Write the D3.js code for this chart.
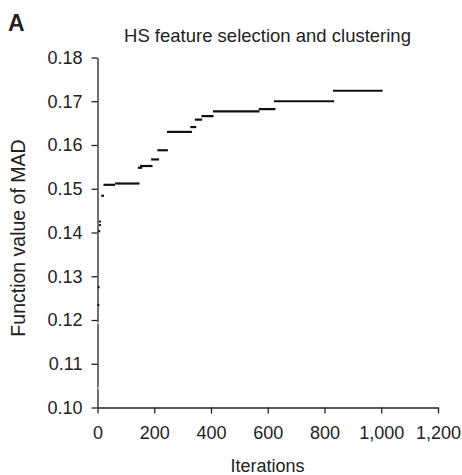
<!DOCTYPE html>
<html>
<head>
<meta charset="utf-8">
<script src="https://cdn.jsdelivr.net/npm/d3@7"></script>
<style>
  html, body { margin: 0; padding: 0; background: #fff; }
  svg { display: block; font-family: "Liberation Sans", Arial, sans-serif; }
</style>
</head>
<body>
<svg id="chart" width="462" height="475"></svg>
<script>
// Step segments of best function value (iteration start, end, value)
const segStart = [13, 21, 62, 142, 150, 189, 211, 245, 327, 343, 366, 407, 568, 622, 830];
const segEnd   = [23, 62, 148, 158, 194, 217, 248, 333, 348, 369, 409, 571, 627, 834, 1005];
const segValue = [0.1484, 0.1509, 0.1512, 0.1548, 0.1552, 0.1567, 0.1588, 0.1630, 0.1641, 0.1658, 0.1666, 0.1677, 0.1682, 0.1700, 0.1724];
// Isolated early points
const dotIter  = [9, 9, 6, 4, 3];
const dotValue = [0.1425, 0.1417, 0.1403, 0.1275, 0.1234];
// Faint early points
const faintIter  = [3, 4];
const faintValue = [0.1193, 0.1044];

const xTicks = [0, 200, 400, 600, 800, 1000, 1200];
const yTicks = [0.10, 0.11, 0.12, 0.13, 0.14, 0.15, 0.16, 0.17, 0.18];

const svg = d3.select("#chart");
const x = d3.scaleLinear().domain([0, 1200]).range([97.5, 438]);
const y = d3.scaleLinear().domain([0.10, 0.18]).range([407.5, 57.5]);

const fmtX = d3.format(",");
const xAxis = d3.axisBottom(x).tickValues(xTicks).tickFormat(d => fmtX(d)).tickSize(6).tickPadding(13).tickSizeOuter(0);
const yAxis = d3.axisLeft(y).tickValues(yTicks).tickFormat(d3.format(".2f")).tickSize(6).tickPadding(9).tickSizeOuter(0);

const gx = svg.append("g").attr("transform", `translate(0,${y(0.10)})`).call(xAxis);
const gy = svg.append("g").attr("transform", `translate(${x(0)},0)`).call(yAxis);
[gx, gy].forEach(g => {
  g.selectAll("path").attr("stroke", "#222").attr("stroke-width", 1.3);
  g.selectAll("line").attr("stroke", "#222").attr("stroke-width", 1.3);
  g.selectAll("text").attr("font-size", 18).attr("fill", "#222").attr("font-family", "Liberation Sans, Arial, sans-serif");
});

// segments
svg.append("g").selectAll("line").data(segValue).join("line")
  .attr("x1", (d, i) => x(segStart[i]))
  .attr("x2", (d, i) => x(segEnd[i]))
  .attr("y1", d => y(d))
  .attr("y2", d => y(d))
  .attr("stroke", "#111")
  .attr("stroke-width", 2.2);

svg.append("g").selectAll("rect").data(dotValue).join("rect")
  .attr("x", (d, i) => x(dotIter[i]) - 1)
  .attr("y", d => y(d) - 1)
  .attr("width", 2).attr("height", 2)
  .attr("fill", "#111");

svg.append("g").selectAll("rect").data(faintValue).join("rect")
  .attr("x", (d, i) => x(faintIter[i]) - 1)
  .attr("y", d => y(d) - 1)
  .attr("width", 2).attr("height", 2)
  .attr("fill", "#ddd");

// Titles
svg.append("text").attr("x", 8).attr("y", 31).attr("font-size", 23).attr("font-weight", "bold").attr("fill", "#222").text("A");
svg.append("text").attr("x", 267.5).attr("y", 41.5).attr("text-anchor", "middle").attr("font-size", 18.5).attr("fill", "#222")
  .text("HS feature selection and clustering");
svg.append("text").attr("x", 267.5).attr("y", 471.5).attr("text-anchor", "middle").attr("font-size", 18).attr("fill", "#222")
  .text("Iterations");
svg.append("text").attr("transform", "translate(25,238) rotate(-90)").attr("text-anchor", "middle").attr("font-size", 19.5).attr("fill", "#222")
  .text("Function value of MAD");
</script>
</body>
</html>
